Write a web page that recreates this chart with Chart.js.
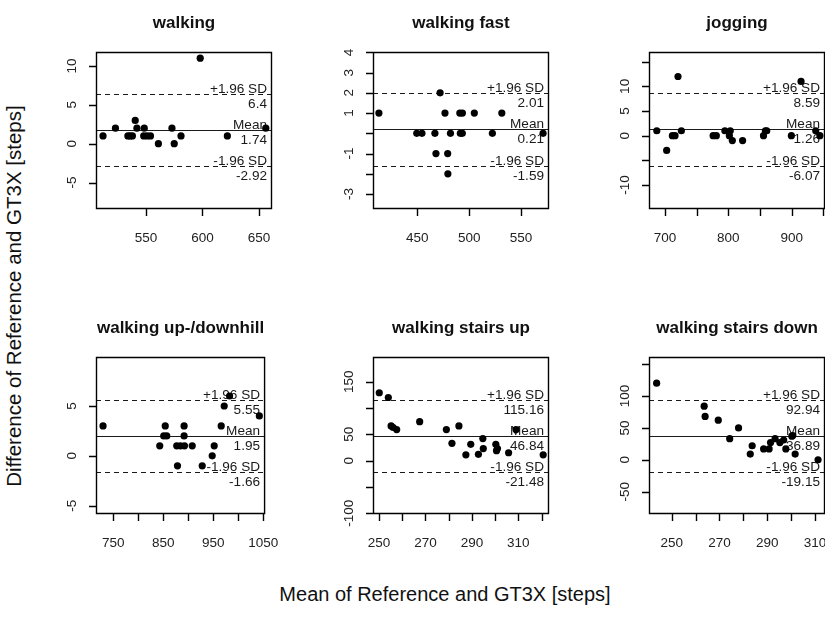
<!DOCTYPE html>
<html>
<head>
<meta charset="utf-8">
<script src="https://cdn.jsdelivr.net/npm/chart.js@4.4.1/dist/chart.umd.min.js"></script>
<style>
  html, body { margin: 0; padding: 0; background: #fff; overflow: hidden; }
  #page { position: relative; width: 825px; height: 619px; overflow: hidden; font-family: "Liberation Sans", Arial, sans-serif; color: #111; }
  #page canvas { position: absolute; }
  #xlab { position: absolute; left: 445px; top: 584px; transform: translateX(-50%); font-size: 20px; line-height: 1; white-space: nowrap; }
  #ylab { position: absolute; left: 14px; top: 296px; transform: translate(-50%, -50%) rotate(-90deg); font-size: 20.5px; line-height: 1; white-space: nowrap; }
</style>
</head>
<body>
<div id="page">
  <div id="ylab">Difference of Reference and GT3X [steps]</div>
  <div id="xlab">Mean of Reference and GT3X [steps]</div>
</div>
<script>
const titles = ['walking', 'walking fast', 'jogging', 'walking up-/downhill', 'walking stairs up', 'walking stairs down'];

// mean of reference and GT3X (x) and their difference (y), per activity
const walkingX = [512, 523, 534, 536, 538, 540.5, 542, 548, 548.5, 551, 554, 561, 573, 575, 581, 598, 622, 656];
const walkingY = [1, 2, 1, 1, 1, 3, 2, 1, 2, 1, 1, 0, 2, 0, 1, 11, 1, 2];
const fastX = [413, 449.5, 454.5, 467, 468, 472, 476.7, 479.3, 479.5, 482, 491.5, 493.4, 491, 493.5, 505, 522.4, 531.5, 571.3];
const fastY = [1, 0, 0, 0, -1, 2, 1, -1, -2, 0, 0, 0, 1, 1, 1, 0, 1, 0];
const joggingX = [687, 702.6, 711.6, 715.8, 720.5, 725.8, 776, 781, 794.5, 801.6, 803, 806.3, 822.5, 855.5, 858.5, 860.6, 899.5, 914.8, 938, 944.5];
const joggingY = [1, -3, 0, 0, 12, 1, 0, 0, 1, 0, 1, -1, -1, 0, 1, 1, 0, 11, 1, 0];
const hillX = [729.5, 843, 851, 854, 857, 877, 878.5, 884.5, 891.7, 891.7, 892.5, 908, 928, 948, 952, 966, 972, 982.7, 1042.3];
const hillY = [3, 1, 2, 3, 2, 1, -1, 1, 3, 2, 1, 1, -1, 0, 1, 3, 5, 6, 4];
const upX = [250.1, 254, 255.2, 256.1, 257.6, 267.5, 279, 281.4, 284.4, 287.4, 289.5, 292.8, 294.7, 294.9, 300.3, 300.6, 301, 305.8, 309, 320.7];
const upY = [129, 120, 66, 63, 59, 74, 59, 33, 66, 11, 31, 12, 42, 23, 31, 19, 23, 15, 59, 11];
const downX = [243.7, 263.6, 264, 269.5, 274.3, 278, 282.9, 283.7, 288.5, 290.8, 291.4, 293.3, 295.3, 296.9, 297.8, 300.3, 300.7, 301.7, 311.3];
const downY = [120, 84, 68, 62, 33, 50, 9, 22, 17, 17, 27, 33, 27, 31, 17, 37, 38, 9, 0];

const xValues = [walkingX, fastX, joggingX, hillX, upX, downX];
const yValues = [walkingY, fastY, joggingY, hillY, upY, downY];

// mean difference and limits of agreement (+-1.96 SD)
const meanDiff = [1.74, 0.21, 1.26, 1.95, 46.84, 36.89];
const upperLoa = [6.4, 2.01, 8.59, 5.55, 115.16, 92.94];
const lowerLoa = [-2.92, -1.59, -6.07, -1.66, -21.48, -19.15];

// axis ticks, and the ticks that carry a printed label
const xTicks = [[550, 600, 650], [450, 500, 550], [700, 750, 800, 850, 900, 950],
  [750, 800, 850, 900, 950, 1000, 1050], [250, 260, 270, 280, 290, 300, 310, 320], [250, 260, 270, 280, 290, 300, 310]];
const xTickLabels = [[550, 600, 650], [450, 500, 550], [700, 800, 900], [750, 850, 950, 1050], [250, 270, 290, 310], [250, 270, 290, 310]];
const yTicks = [[-5, 0, 5, 10], [-3, -2, -1, 0, 1, 2, 3, 4], [-10, -5, 0, 5, 10, 15], [-5, 0, 5],
  [-100, -50, 0, 50, 100, 150], [-50, 0, 50, 100, 150]];
const yTickLabels = [[-5, 0, 5, 10], [-3, -1, 1, 2, 3, 4], [-10, 0, 5, 10], [-5, 0, 5], [-100, 0, 50, 150], [-50, 0, 50, 100]];
const xRange = [[505.8, 661.5], [407.3, 577], [674.7, 952.6], [715.4, 1053.8], [247.4, 323.2], [240.5, 314.2]];
const yRange = [[-8.4, 11.8], [-3.74, 4.02], [-14.87, 16.97], [-5.83, 9.91], [-101.3, 196.9], [-85, 161.1]];

const FONT = '"Liberation Sans", Arial, sans-serif';
const colLeft = [96, 373, 649];
const rowTop = [52, 357];
const plotW = 176, plotH = 157, axisW = 60, titleH = 52, axisH = 60, padR = 20;

// mean / limit lines with their labels, under the points
const limitLines = {
  id: 'limitLines',
  beforeDatasetsDraw(chart, args, opts) {
    const i = opts.panel;
    const {ctx, chartArea: a} = chart;
    const y = chart.scales.y;
    const rows = [
      [upperLoa[i], '+1.96 SD', [5, 4]],
      [meanDiff[i], 'Mean', []],
      [lowerLoa[i], '-1.96 SD', [5, 4]]
    ];
    ctx.save();
    ctx.lineWidth = 1.2;
    ctx.strokeStyle = '#1a1a1a';
    ctx.fillStyle = '#1a1a1a';
    ctx.font = '13.6px ' + FONT;
    ctx.textAlign = 'right';
    ctx.textBaseline = 'alphabetic';
    rows.forEach(function (row) {
      const py = Math.round(y.getPixelForValue(row[0])) + 0.5;
      ctx.setLineDash(row[2]);
      ctx.beginPath();
      ctx.moveTo(a.left, py);
      ctx.lineTo(a.right, py);
      ctx.stroke();
      ctx.fillText(row[1], a.right - 5, py - 2);
      ctx.fillText(String(row[0]), a.right - 5, py + 13.5);
    });
    ctx.restore();
  }
};

// box round the plot, tick marks and rotated y labels, as R draws them
const frame = {
  id: 'frame',
  afterDraw(chart, args, opts) {
    const i = opts.panel;
    const {ctx, chartArea: a} = chart;
    const x = chart.scales.x, y = chart.scales.y;
    ctx.save();
    ctx.setLineDash([]);
    ctx.lineWidth = 1.4;
    ctx.strokeStyle = 'rgb(0, 0, 0)';
    ctx.beginPath();
    ctx.rect(a.left + 0.5, a.top + 0.5, a.right - a.left - 1, a.bottom - a.top - 1);
    x.ticks.forEach(function (tk) {
      const px = Math.round(x.getPixelForValue(tk.value)) + 0.5;
      ctx.moveTo(px, a.bottom);
      ctx.lineTo(px, a.bottom + 7);
    });
    y.ticks.forEach(function (tk) {
      const py = Math.round(y.getPixelForValue(tk.value)) + 0.5;
      ctx.moveTo(a.left, py);
      ctx.lineTo(a.left - 7, py);
    });
    ctx.stroke();

    ctx.fillStyle = '#222222';
    ctx.font = '13.5px ' + FONT;
    ctx.textAlign = 'center';
    ctx.textBaseline = 'middle';
    y.ticks.forEach(function (tk) {
      if (!yTickLabels[i].includes(tk.value)) return;
      ctx.save();
      ctx.translate(a.left - 24, y.getPixelForValue(tk.value));
      ctx.rotate(-Math.PI / 2);
      ctx.fillText(String(tk.value), 0, 0);
      ctx.restore();
    });
    ctx.restore();
  }
};

const page = document.getElementById('page');

titles.forEach(function (title, i) {
  const col = i % 3, row = Math.floor(i / 3);
  const canvas = document.createElement('canvas');
  canvas.width = axisW + plotW + padR;
  canvas.height = titleH + plotH + axisH;
  canvas.style.left = (colLeft[col] - axisW) + 'px';
  canvas.style.top = (rowTop[row] - titleH) + 'px';
  page.appendChild(canvas);

  const points = xValues[i].map(function (x, k) { return {x: x, y: yValues[i][k]}; });

  new Chart(canvas, {
    type: 'scatter',
    data: {
      datasets: [{
        data: points,
        pointRadius: 3.6,
        pointHoverRadius: 3.6,
        pointBackgroundColor: '#000',
        pointBorderWidth: 0,
        clip: false
      }]
    },
    options: {
      responsive: false,
      animation: false,
      devicePixelRatio: 1,
      layout: { padding: { left: 0, top: 0, right: padR, bottom: 0 } },
      plugins: {
        legend: { display: false },
        tooltip: { enabled: false },
        title: {
          display: true,
          text: title,
          fullSize: false,
          color: '#111',
          font: { family: FONT, size: 17, weight: 'bold' },
          padding: { top: 13.5, bottom: 18.1 }
        },
        limitLines: { panel: i },
        frame: { panel: i }
      },
      scales: {
        x: {
          type: 'linear',
          min: xRange[i][0],
          max: xRange[i][1],
          afterBuildTicks: function (s) { s.ticks = xTicks[i].map(function (v) { return {value: v}; }); },
          afterFit: function (s) { s.height = axisH; },
          grid: { display: false },
          border: { display: false },
          ticks: {
            autoSkip: false,
            maxRotation: 0,
            padding: 13.5,
            color: '#222',
            font: { family: FONT, size: 13.5 },
            callback: function (v) { return xTickLabels[i].includes(v) ? String(v) : ''; }
          }
        },
        y: {
          type: 'linear',
          min: yRange[i][0],
          max: yRange[i][1],
          afterBuildTicks: function (s) { s.ticks = yTicks[i].map(function (v) { return {value: v}; }); },
          afterFit: function (s) { s.width = axisW; },
          grid: { display: false },
          border: { display: false },
          ticks: { display: false }
        }
      }
    },
    plugins: [limitLines, frame]
  });
});
</script>
</body>
</html>
